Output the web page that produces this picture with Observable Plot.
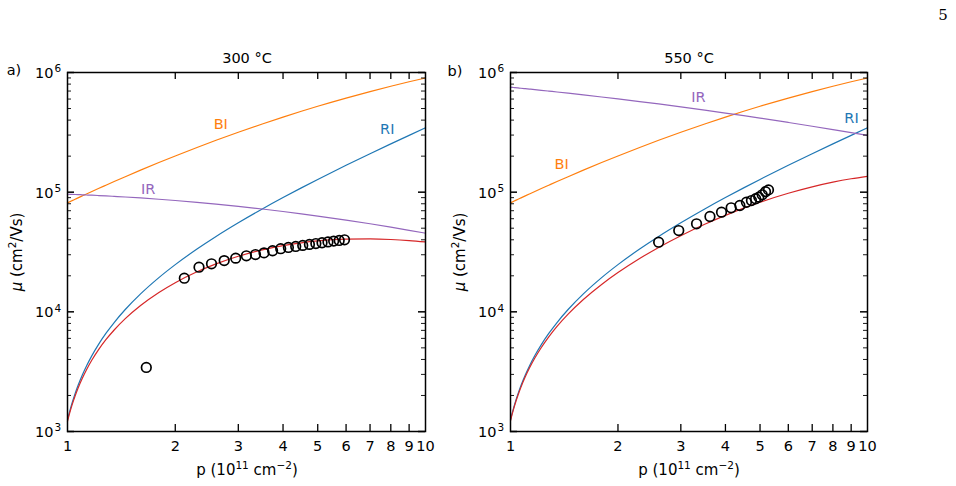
<!DOCTYPE html>
<html>
<head>
<meta charset="utf-8">
<script src="https://cdn.jsdelivr.net/npm/d3@7"></script>
<script src="https://cdn.jsdelivr.net/npm/@observablehq/plot@0.6"></script>
<style>
  body { margin: 0; background: #fff; }
  #fig { position: relative; width: 956px; height: 486px; font-family: "DejaVu Sans", sans-serif; color: #000; overflow: hidden; }
  #fig .pane { position: absolute; top: 0; }
  .t { position: absolute; transform: translate(-50%, -50%); white-space: nowrap; font-size: 14.5px; line-height: 1; }
  .t sup { font-size: 10.5px; vertical-align: 0; position: relative; top: -6px; }
  .xl { font-size: 15px; }
  .rot { transform: translate(-50%, -50%) rotate(-90deg); font-size: 15px; }
  .page { font-family: "DejaVu Serif", "Liberation Serif", serif; font-size: 15px; }
</style>
</head>
<body>
<div id="fig"></div>
<script>
// Hole density p (10^11 cm^-2) at which the model curves are tabulated
const pGrid = [1, 1.01, 1.02, 1.03, 1.05, 1.07, 1.1, 1.13, 1.17, 1.22, 1.28, 1.35, 1.45, 1.6, 1.8, 2, 2.3, 2.6, 3, 3.5, 4, 4.5, 5, 6, 7, 8, 9, 10];

// Mobility components (cm^2/Vs): remote ionized (RI), background impurity (BI), interface roughness (IR)
const muRI = [1250, 1408, 1569, 1734, 2071, 2421, 2965, 3529, 4309, 5325, 6595, 8144, 10456, 14120, 19315, 24797, 33493, 42663, 55507, 72426, 90176, 108641, 127757, 167670, 209584, 253223, 298432, 345000];
const muBI = [81470, 82620, 83770, 84930, 87220, 89560, 93070, 96590, 101300, 107200, 114300, 122700, 134700, 152700, 176800, 200800, 236300, 271300, 316700, 371500, 424100, 474200, 522100, 611300, 693000, 767800, 836300, 899500];
const muIR300 = [96160, 96060, 95950, 95840, 95630, 95410, 95080, 94740, 94300, 93730, 93050, 92250, 91120, 89440, 87270, 85170, 82210, 79470, 76100, 72320, 68940, 65910, 63170, 58430, 54430, 50990, 48020, 45390];
const muIR550 = [753400, 751200, 749100, 746900, 742700, 738600, 732500, 726600, 718900, 709700, 699100, 687400, 671700, 650100, 624400, 601600, 571600, 545800, 516100, 484800, 458400, 435700, 415900, 382500, 355700, 333300, 314400, 297800];
// Total model mobility
const muTot300 = [1216, 1365, 1516, 1670, 1981, 2300, 2789, 3286, 3959, 4812, 5845, 7053, 8770, 11293, 14516, 17528, 21622, 25184, 29143, 32975, 35776, 37756, 39105, 40463, 40673, 40220, 39413, 38400];
const muTot550 = [1229, 1382, 1537, 1696, 2017, 2350, 2862, 3388, 4109, 5037, 6181, 7553, 9565, 12673, 16940, 21290, 27902, 34533, 43268, 53874, 63984, 73481, 82332, 97905, 110803, 121197, 129400, 135700];

// Measured Hall mobility
const pMeas300 = [1.66, 2.12, 2.33, 2.525, 2.74, 2.95, 3.16, 3.35, 3.54, 3.74, 3.94, 4.14, 4.34, 4.54, 4.74, 4.94, 5.14, 5.34, 5.54, 5.74, 5.94];
const muMeas300 = [3430, 19100, 23600, 25200, 26800, 28100, 29400, 30100, 31100, 32400, 33700, 34500, 35200, 35900, 36600, 37200, 37800, 38400, 39000, 39500, 40000];
const pMeas550 = [2.60, 2.96, 3.32, 3.62, 3.90, 4.15, 4.39, 4.58, 4.73, 4.86, 4.96, 5.07, 5.18, 5.28];
const muMeas550 = [38200, 47800, 54400, 62600, 68100, 74000, 77400, 82400, 85100, 88100, 90900, 95100, 101000, 104500];

// Curve labels
const curveNames = ["BI", "RI", "IR"];
const labelP300 = [2.68, 7.82, 1.68];
const labelMu300 = [367800, 332000, 105300];
const labelP550 = [1.39, 9.02, 3.36];
const labelMu550 = [170300, 415000, 618000];

// Axis ticks
const xTicks = [1, 2, 3, 4, 5, 6, 7, 8, 9, 10];
const xInnerTicks = [2, 3, 4, 5, 6, 7, 8, 9];
const yDecades = [1e3, 1e4, 1e5, 1e6];
const yExponents = ["3", "4", "5", "6"];
const yMinor = [2e3, 3e3, 4e3, 5e3, 6e3, 7e3, 8e3, 9e3, 2e4, 3e4, 4e4, 5e4, 6e4, 7e4, 8e4, 9e4, 2e5, 3e5, 4e5, 5e5, 6e5, 7e5, 8e5, 9e5];

const colors = {RI: "#1f77b4", BI: "#ff7f0e", IR: "#9467bd", tot: "#d62728"};

const H = 486, MT = 72, MB = 55;

function panel({width, marginLeft, marginRight, muIR, muTot, pMeas, muMeas, labelP, labelMu}) {
  const innerW = width - marginLeft - marginRight;
  const innerH = H - MT - MB;
  const rows = pGrid.map((p, i) => ({p, RI: muRI[i], BI: muBI[i], IR: muIR[i], tot: muTot[i]}));
  const meas = pMeas.map((p, i) => ({p, mu: muMeas[i]}));
  const labels = curveNames.map((name, i) => ({name, p: labelP[i], mu: labelMu[i]}));
  const decadeLabels = yDecades.map((v, i) => ({v, e: yExponents[i]}));
  const line = (key) => Plot.line(rows, {x: "p", y: key, stroke: colors[key], strokeWidth: 1.2, curve: "monotone-x"});
  return Plot.plot({
    width, height: H,
    marginLeft, marginRight, marginTop: MT, marginBottom: MB,
    x: {type: "log", domain: [1, 10], axis: null},
    y: {type: "log", domain: [1e3, 1e6], axis: null},
    style: {fontFamily: "DejaVu Sans", fontSize: "14.5px", background: "transparent", overflow: "visible", color: "black"},
    marks: [
      line("BI"),
      line("RI"),
      line("IR"),
      line("tot"),
      Plot.dot(meas, {x: "p", y: "mu", r: 4.8, stroke: "black", strokeWidth: 1.7, fill: "none"}),
      Plot.text(labels, {x: "p", y: "mu", text: "name", fill: (d) => colors[d.name], fontSize: 14.5}),
      // inward ticks on all four sides
      Plot.tickX(xInnerTicks, {x: (d) => d, insetTop: innerH - 7, stroke: "black", strokeWidth: 1.3}),
      Plot.tickX(xInnerTicks, {x: (d) => d, insetBottom: innerH - 7, stroke: "black", strokeWidth: 1.3}),
      Plot.tickY(yDecades, {y: (d) => d, insetRight: innerW - 7, stroke: "black", strokeWidth: 1.5}),
      Plot.tickY(yDecades, {y: (d) => d, insetLeft: innerW - 7, stroke: "black", strokeWidth: 1.5}),
      Plot.tickY(yMinor, {y: (d) => d, insetRight: innerW - 4, stroke: "black", strokeWidth: 0.9}),
      Plot.tickY(yMinor, {y: (d) => d, insetLeft: innerW - 4, stroke: "black", strokeWidth: 0.9}),
      Plot.frame({stroke: "black", strokeWidth: 1.5}),
      // tick labels
      Plot.text(xTicks, {x: (d) => d, text: (d) => String(d), frameAnchor: "bottom", lineAnchor: "top", dy: 9, fontSize: 14.5, fill: "black"}),
      Plot.text(decadeLabels, {y: "v", text: () => "10", frameAnchor: "left", textAnchor: "end", dx: -14, dy: 1, fontSize: 14.5, fill: "black"}),
      Plot.text(decadeLabels, {y: "v", text: "e", frameAnchor: "left", textAnchor: "start", dx: -13, dy: -3.5, fontSize: 10.5, fill: "black"})
    ]
  });
}

const fig = document.getElementById("fig");

function place(node, left) {
  node.classList.add("pane");
  node.style.left = left + "px";
  fig.appendChild(node);
}

place(panel({width: 440, marginLeft: 67, marginRight: 15, muIR: muIR300, muTot: muTot300, pMeas: pMeas300, muMeas: muMeas300, labelP: labelP300, labelMu: labelMu300}), 0);
place(panel({width: 516, marginLeft: 70, marginRight: 89, muIR: muIR550, muTot: muTot550, pMeas: pMeas550, muMeas: muMeas550, labelP: labelP550, labelMu: labelMu550}), 440);

function text(html, x, y, cls = "") {
  const d = document.createElement("div");
  d.className = "t " + cls;
  d.style.left = x + "px";
  d.style.top = y + "px";
  d.innerHTML = html;
  fig.appendChild(d);
}

text("5", 943, 15, "page");
text("a)", 14, 70);
text("b)", 455, 71);
text("300 °C", 247, 58);
text("550 °C", 689, 58);
text("p (10<sup>11</sup> cm<sup>\u22122</sup>)", 247, 470, "xl");
text("p (10<sup>11</sup> cm<sup>\u22122</sup>)", 689, 470, "xl");
text("<i>\u03bc</i> (cm<sup>2</sup>/Vs)", 17, 252, "rot");
text("<i>\u03bc</i> (cm<sup>2</sup>/Vs)", 460, 252, "rot");
</script>
</body>
</html>
